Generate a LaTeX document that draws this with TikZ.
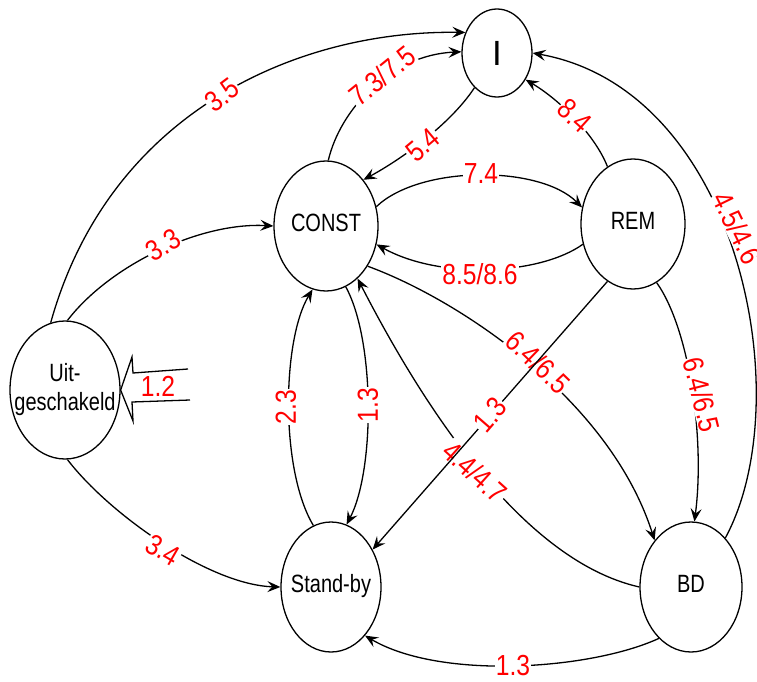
\documentclass[tikz,border=0pt]{standalone}
\usepackage{fontspec}
\setmainfont{Liberation Sans}
\newfontfamily\labfont[FakeStretch=0.85]{Liberation Sans}
\newfontfamily\statefont[FakeStretch=0.8]{Liberation Sans}
\usetikzlibrary{shapes.geometric,arrows.meta}
\definecolor{lblred}{RGB}{255,0,0}
% state text that does not widen its ellipse
\newcommand{\statetext}[1]{\makebox[0pt]{\begin{tabular}{@{}c@{}}#1\end{tabular}}}

\begin{document}
\begin{tikzpicture}[x=1pt,y=-1pt,
  st/.style={draw, ellipse, line width=1.3pt, inner sep=0pt,
             font=\statefont\fontsize{25}{29}\selectfont},
  conn/.style={line width=1.3pt, -{Stealth[length=13pt,width=11pt,inset=5pt]}},
  lbl/.style={fill=white, inner sep=1pt, text=lblred,
              font=\labfont\fontsize{29}{30}\selectfont}
]
\useasboundingbox (0,0) rectangle (757,682);

% states
\node[st, minimum width=70pt, minimum height=88pt,
      font=\fontsize{35}{36}\selectfont] (I) at (497,53) {I};
\node[st, minimum width=104pt, minimum height=130pt] (CONST) at (326,226) {\statetext{CONST}};
\node[st, minimum width=104pt, minimum height=130pt] (REM) at (633,224) {\statetext{REM}};
\node[st, minimum width=110pt, minimum height=138pt] (Uit) at (65,390) {\statetext{Uit-\\geschakeld}};
\node[st, minimum width=100pt, minimum height=130pt] (SB) at (331,587) {\statetext{Stand-by}};
\node[st, minimum width=102pt, minimum height=130pt] (BD) at (691,587) {\statetext{BD}};

% entry arrow into the switched-off state
\draw[line width=1.3pt, line join=miter] (188,369) -- (133,373) -- (132,357) -- (Uit.east)
      -- (133,421) -- (132,402) -- (190,400);
\node[lbl, fill=none] (l12) at (158,386) {1.2};

% transitions
\draw[conn] (Uit.102) .. controls (110,110) and (300,30) .. (I.147);
\draw[conn] (Uit.88) .. controls (110,265) and (200,222) .. (CONST.180);
\draw[conn] (Uit.272) .. controls (110,515) and (210,585) .. (SB.180);
\draw[conn] (CONST.88) .. controls (340,110) and (390,55) .. (I.178);
\draw[conn] (I.237) .. controls (450,125) and (400,160) .. (CONST.51);
\draw[conn] (CONST.21) .. controls (420,165) and (540,165) .. (REM.162);
\draw[conn] (REM.202) .. controls (540,275) and (440,280) .. (CONST.-20);
\draw[conn] (REM.114) .. controls (595,135) and (560,100) .. (I.-43);
\draw[conn] (BD.55) .. controls (800,400) and (740,90) .. (I.0);
\draw[conn] (CONST.-44) .. controls (460,300) and (610,400) .. (BD.128);
\draw[conn] (REM.-68) .. controls (690,330) and (705,440) .. (BD.87);
\draw[conn] (BD.180) .. controls (520,560) and (420,400) .. (CONST.-59);
\draw[conn] (CONST.-72) .. controls (375,340) and (375,470) .. (SB.76);
\draw[conn] (SB.106) .. controls (280,470) and (282,340) .. (CONST.-102);
\draw[conn] (BD.238) .. controls (590,670) and (440,680) .. (SB.-55);

% transition labels
\node[lbl, rotate=37] (l35) at (222,95) {3.5};
\node[lbl, rotate=31] (l33) at (163,245) {3.3};
\node[lbl, rotate=-30] (l34) at (163,550) {3.4};
\node[lbl, rotate=39] (l73) at (382,76) {7.3/7.5};
\node[lbl, rotate=40] (l54) at (423,145) {5.4};
\node[lbl] (l74) at (481,174) {7.4};
\node[lbl] (l85) at (480,274) {8.5/8.6};
\node[lbl, rotate=-42] (l84) at (575,116) {8.4};
\node[lbl, rotate=-64] (l45) at (737,228) {4.5/4.6};
\node[lbl, rotate=-44] (l64a) at (538,362) {6.4/6.5};
\node[lbl, rotate=-76] (l64b) at (702,395) {6.4/6.5};
\node[lbl, rotate=-42] (l44) at (475,472) {4.4/4.7};
\node[lbl, rotate=90] (l13a) at (368,405) {1.3};
\node[lbl, rotate=90] (l23) at (286,407) {2.3};
\node[lbl] (l13c) at (513,666) {1.3};

% straight transition crossing the others, drawn on top
\draw[conn] (REM.-114) -- (SB.42);
\node[lbl, rotate=49] (l13b) at (490,415) {1.3};
\end{tikzpicture}
\end{document}
